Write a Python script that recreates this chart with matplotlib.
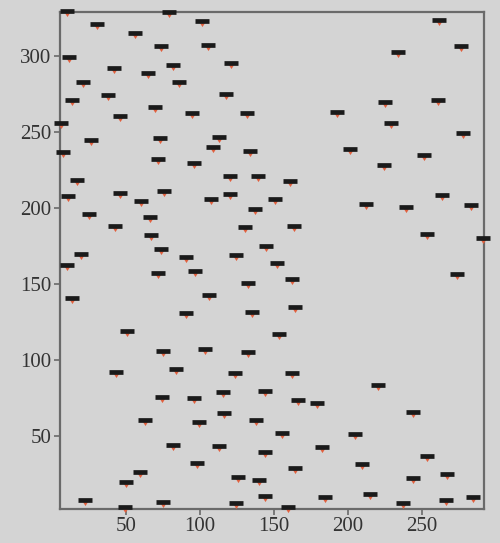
import matplotlib
matplotlib.use('Agg')
import matplotlib.pyplot as plt
from matplotlib.path import Path

# point positions
x_vals = [10.6, 30.9, 56.1, 73.6, 11.5, 42.1, 65.1, 21.1, 13.7, 38.0,
          69.6, 46.1, 6.6, 26.4, 73.0, 7.6, 71.6, 17.4, 11.0, 45.9,
          60.1, 75.7, 25.2, 66.2, 42.6, 67.4, 19.6, 73.6,
          79.3, 101.8, 105.6, 82.0, 120.9, 86.0, 117.6, 94.8, 132.0, 113.0,
          109.0, 133.8, 96.1, 120.7, 139.2, 107.9, 120.7, 150.7, 137.6, 130.4,
          91.0, 124.8, 144.6,
          192.4, 201.6, 160.8, 212.2, 163.5,
          261.7, 276.1, 234.0, 225.0, 260.6, 228.9, 277.5, 251.4, 224.3, 263.3,
          239.2, 283.1, 253.2, 291.4,
          10.6, 71.6, 13.7, 51.1, 75.0, 43.7, 74.3, 62.8, 59.5, 50.5,
          22.8, 49.3, 75.0,
          96.6, 132.6, 106.1, 91.0, 135.6, 103.4, 132.6, 84.3, 123.6, 115.7,
          143.9, 96.1, 116.2, 99.3, 138.3, 82.0, 113.0, 143.9, 98.4, 125.9,
          140.1, 144.3, 124.8,
          152.2, 162.6, 164.2, 153.6, 162.4, 166.4, 178.9, 220.3, 155.6, 204.7,
          182.6, 164.2, 209.7, 184.5, 214.9, 159.3,
          273.9, 243.7, 253.2, 267.1, 243.7, 237.0, 266.2, 284.3]
y_vals = [329.6, 321.1, 314.9, 306.6, 299.1, 291.9, 288.6, 282.7, 271.1, 274.3,
          266.4, 260.5, 256.1, 244.9, 246.1, 237.0, 232.2, 218.4, 207.9, 209.7,
          204.6, 211.2, 195.9, 193.9, 188.2, 182.2, 169.7, 172.7,
          329.1, 323.2, 307.2, 294.1, 295.6, 282.7, 275.0, 262.3, 262.3, 246.5,
          239.9, 237.5, 229.8, 221.1, 221.1, 205.9, 209.2, 205.9, 199.3, 187.7,
          167.6, 169.1, 175.2,
          263.4, 238.8, 217.8, 202.4, 188.4,
          323.7, 306.6, 302.4, 269.9, 271.1, 255.7, 249.5, 234.9, 228.3, 208.6,
          200.5, 202.0, 182.9, 180.1,
          162.5, 157.0, 141.0, 119.3, 106.1, 92.3, 75.7, 60.5, 26.5, 19.5,
          7.9, 3.5, 6.8,
          158.6, 150.9, 142.8, 131.1, 131.8, 107.0, 105.1, 93.9, 91.3, 79.1,
          79.9, 75.2, 64.9, 59.0, 60.5, 44.1, 43.6, 39.5, 32.4, 22.8,
          21.1, 10.7, 5.7,
          163.6, 153.1, 135.1, 117.1, 91.3, 73.7, 71.5, 83.6, 52.2, 51.1,
          42.6, 29.1, 31.4, 9.7, 11.8, 3.5,
          156.6, 66.0, 36.8, 25.0, 22.2, 6.1, 7.9, 9.7]

x_ticks = [50, 100, 150, 200, 250]
y_ticks = [50, 100, 150, 200, 250, 300]

bg = '#d4d4d4'

# small red triangle sitting under the black dash
tri = Path([(-0.45, -0.3), (0.45, -0.3), (0.0, -1.0), (-0.45, -0.3)],
           [Path.MOVETO, Path.LINETO, Path.LINETO, Path.CLOSEPOLY])

fig = plt.figure(figsize=(5.0, 5.43), dpi=100, facecolor=bg)
ax = fig.add_axes([0.12, 0.0635, 0.848, 0.9135])
ax.set_facecolor(bg)

ax.plot(x_vals, y_vals, linestyle='none', marker=tri, markersize=8,
        color='#e0603e', markeredgewidth=0, clip_on=False, zorder=3)
ax.plot(x_vals, y_vals, linestyle='none', marker='_', markersize=10.5,
        markeredgewidth=3.4, color='#1a1a1a', clip_on=False, zorder=4)

ax.set_xlim(5.7, 291.9)
ax.set_ylim(2.3, 328.6)
ax.set_xticks(x_ticks)
ax.set_yticks(y_ticks)

for s in ax.spines.values():
    s.set_color('#6a6a6a')
    s.set_linewidth(1.6)

ax.tick_params(direction='out', length=4, width=1.2, color='#6a6a6a',
               labelcolor='#333333', pad=2)
for lab in ax.get_xticklabels() + ax.get_yticklabels():
    lab.set_family('Liberation Serif')
    lab.set_fontsize(15)

fig.savefig('out.png', dpi=100, facecolor=bg)
